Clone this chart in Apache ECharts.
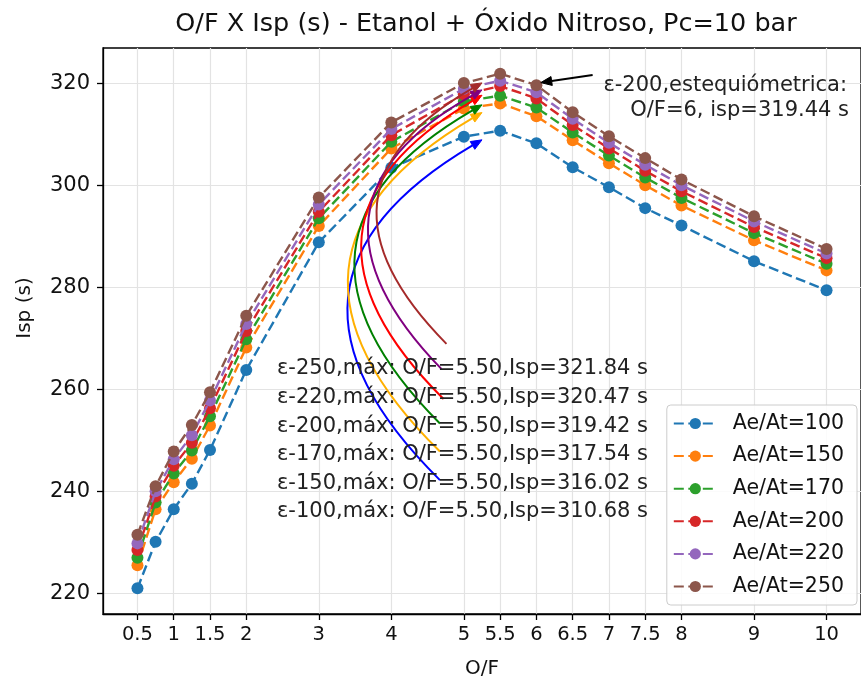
<!DOCTYPE html>
<html>
<head>
<meta charset="utf-8">
<script src="https://cdn.jsdelivr.net/npm/echarts@6/dist/echarts.min.js"></script>
<style>html,body{margin:0;padding:0;background:#fff}#c{width:861px;height:684px}</style>
</head>
<body>
<div id="c"></div>
<script>
// ---- data ----
const ofValues = [0.5, 0.75, 1, 1.25, 1.5, 2, 3, 4, 5, 5.5, 6, 6.5, 7, 7.5, 8, 9, 10];
const expansionRatios = [100, 150, 170, 200, 220, 250];
const isp100 = [221.0, 230.1, 236.5, 241.5, 248.1, 263.8, 288.8, 303.4, 309.5, 310.68, 308.2, 303.5, 299.6, 295.5, 292.1, 285.1, 279.4];
const isp150 = [225.5, 236.5, 241.8, 246.4, 252.9, 268.2, 292.0, 307.2, 315.0, 316.02, 313.5, 308.8, 304.3, 300.0, 296.0, 289.2, 283.3];
const isp170 = [227.0, 237.8, 243.5, 248.0, 254.7, 269.8, 293.5, 308.5, 316.4, 317.54, 315.2, 310.3, 305.8, 301.5, 297.5, 290.6, 284.6];
const isp200 = [228.5, 239.0, 245.0, 249.5, 256.3, 271.4, 294.8, 309.8, 317.8, 319.42, 317.0, 311.8, 307.2, 302.8, 298.8, 291.8, 285.7];
const isp220 = [229.8, 240.0, 246.3, 251.0, 257.8, 272.8, 296.2, 311.0, 318.9, 320.47, 318.2, 313.0, 308.3, 304.0, 300.0, 292.9, 286.6];
const isp250 = [231.5, 241.0, 247.8, 253.0, 259.4, 274.4, 297.6, 312.3, 320.0, 321.84, 319.6, 314.3, 309.6, 305.3, 301.1, 293.9, 287.5];
const xTickLabels = [0.5, 1, 1.5, 2, 3, 4, 5, 5.5, 6, 6.5, 7, 7.5, 8, 9, 10];
const yTickLabels = [220, 240, 260, 280, 300, 320];
const ispSeries = [isp100, isp150, isp170, isp200, isp220, isp250];
// annotation arrows: tail position (data coords) for each curve
const arrowStartX = [4.67, 4.67, 4.67, 4.72, 4.69, 4.76];
const arrowStartY = [242.2, 247.8, 253.3, 258.1, 264.0, 268.9];
const stoichText = ['ε-200,estequiómetrica:', 'O/F=6, isp=319.44 s'];
const stoichArrowFrom = [6.775, 321.6];
const stoichArrowTo = [6.06, 320.1];

// ---- styles ----
const FONT = 'DejaVu Sans';
const colors = ['#1f77b4', '#ff7f0e', '#2ca02c', '#d62728', '#9467bd', '#8c564b'];
const arcColors = ['#0000ff', '#ffb000', '#008000', '#ff0000', '#800080', '#a52a2a'];
const ANN_FONT = 21;

const chart = echarts.init(document.getElementById('c'), null, {renderer: 'canvas'});

const series = ispSeries.map((arr, i) => ({
  name: 'Ae/At=' + expansionRatios[i],
  type: 'line',
  data: ofValues.map((x, k) => [x, arr[k]]),
  symbol: 'circle',
  symbolSize: 12,
  showSymbol: true,
  color: colors[i],
  lineStyle: {width: 2.4, type: [10, 4.5], color: colors[i]},
  itemStyle: {color: colors[i]},
  emphasis: {disabled: true},
  z: 2 + i
}));

const maxima = ispSeries.map(arr => {
  let m = 0;
  arr.forEach((v, k) => { if (v > arr[m]) m = k; });
  return {x: ofValues[m], y: arr[m]};
});

const option = {
  animation: false,
  backgroundColor: '#fff',
  title: {
    text: 'O/F X Isp (s) - Etanol + Óxido Nitroso, Pc=10 bar',
    left: 481, top: 6, textAlign: 'center',
    textStyle: {fontFamily: FONT, fontSize: 25.5, fontWeight: 'normal', color: '#111'}
  },
  legend: {
    orient: 'vertical',
    right: 4, top: 405,
    data: series.map(s => s.name),
    itemWidth: 43, itemHeight: 14, itemGap: 11.6,
    padding: [8, 13, 8, 6],
    backgroundColor: 'rgba(255,255,255,0.85)',
    borderColor: '#cccccc', borderWidth: 1, borderRadius: 4,
    textStyle: {fontFamily: FONT, fontSize: 20.5, color: '#111', lineHeight: 20, padding: [0, 0, 0, 11]},
    selectedMode: false
  },
  grid: {left: 103, top: 48, width: 761.5, height: 568, show: true, borderColor: '#000', borderWidth: 1.3, backgroundColor: 'transparent'},
  xAxis: {
    type: 'value', min: 0.025, max: 10.475,
    name: 'O/F', nameLocation: 'middle', nameGap: 45,
    nameTextStyle: {fontFamily: FONT, fontSize: 20, color: '#111'},
    axisLine: {show: true, lineStyle: {color: '#000', width: 1.3}},
    axisTick: {show: true, length: 6, lineStyle: {color: '#000', width: 1.3}, customValues: xTickLabels},
    axisLabel: {customValues: xTickLabels, margin: 11, fontFamily: FONT, fontSize: 19.5, color: '#111',
      formatter: v => String(v)},
    splitLine: {show: true, lineStyle: {color: '#e3e3e3', width: 1.2}}
  },
  yAxis: {
    type: 'value', min: 215.96, max: 326.88,
    name: '',
    axisLine: {show: true, lineStyle: {color: '#000', width: 1.3}},
    axisTick: {show: true, length: 6, lineStyle: {color: '#000', width: 1.3}, customValues: yTickLabels},
    axisLabel: {customValues: yTickLabels, margin: 13, fontFamily: FONT, fontSize: 21, color: '#111'},
    splitLine: {show: true, lineStyle: {color: '#e3e3e3', width: 1.2}}
  },
  series: series
};
chart.setOption(option);

// ---- annotations (texts + arrows placed through the chart's own coordinate conversion) ----
const graphics = [];
const labelOrder = [5, 4, 3, 2, 1, 0];
labelOrder.forEach((si, row) => {
  graphics.push({
    type: 'text', x: 277, y: 369 + row * 28.6, z: 100, silent: true,
    style: {
      text: 'ε-' + expansionRatios[si] + ',máx: O/F=' + maxima[si].x.toFixed(2) + ',Isp=' + maxima[si].y.toFixed(2) + ' s',
      fontFamily: FONT, fontSize: ANN_FONT, fill: '#222', align: 'left', verticalAlign: 'middle'
    }
  });
});
graphics.push({type: 'text', x: 847, y: 86, z: 100, silent: true,
  style: {text: stoichText[0], fontFamily: FONT, fontSize: ANN_FONT, fill: '#222', align: 'right', verticalAlign: 'middle'}});
graphics.push({type: 'text', x: 849, y: 111, z: 100, silent: true,
  style: {text: stoichText[1], fontFamily: FONT, fontSize: ANN_FONT, fill: '#222', align: 'right', verticalAlign: 'middle'}});
graphics.push({type: 'text', x: 25, y: 308, z: 100, silent: true, rotation: Math.PI / 2,
  style: {text: 'Isp (s)', fontFamily: FONT, fontSize: 20, fill: '#111', align: 'center', verticalAlign: 'middle'}});

function arrow(from, to, rad, color) {
  const p1 = chart.convertToPixel({gridIndex: 0}, from);
  const p2 = chart.convertToPixel({gridIndex: 0}, to);
  const dx = p2[0] - p1[0], dy = p2[1] - p1[1];
  const cx = (p1[0] + p2[0]) / 2 + rad * dy;
  const cy = (p1[1] + p2[1]) / 2 - rad * dx;
  let tx = p2[0] - cx, ty = p2[1] - cy;
  const L = Math.hypot(tx, ty); tx /= L; ty /= L;
  const hl = 11, hw = 4.5;
  const bx = p2[0] - tx * hl, by = p2[1] - ty * hl;
  graphics.push({
    type: 'bezierCurve', z: 50, silent: true,
    shape: {x1: p1[0], y1: p1[1], x2: bx, y2: by, cpx1: cx, cpy1: cy},
    style: {stroke: color, lineWidth: 2, fill: null}
  });
  graphics.push({
    type: 'polygon', z: 50, silent: true,
    shape: {points: [[p2[0], p2[1]], [bx - ty * hw, by + tx * hw], [bx + ty * hw, by - tx * hw]]},
    style: {fill: color, stroke: color, lineWidth: 1}
  });
}
maxima.forEach((mx, i) => {
  arrow([arrowStartX[i], arrowStartY[i]], [mx.x - 0.25, mx.y - 1.8], 0.65, arcColors[i]);
});
arrow(stoichArrowFrom, stoichArrowTo, 0, '#000');

chart.setOption({graphic: graphics});
</script>
</body>
</html>
